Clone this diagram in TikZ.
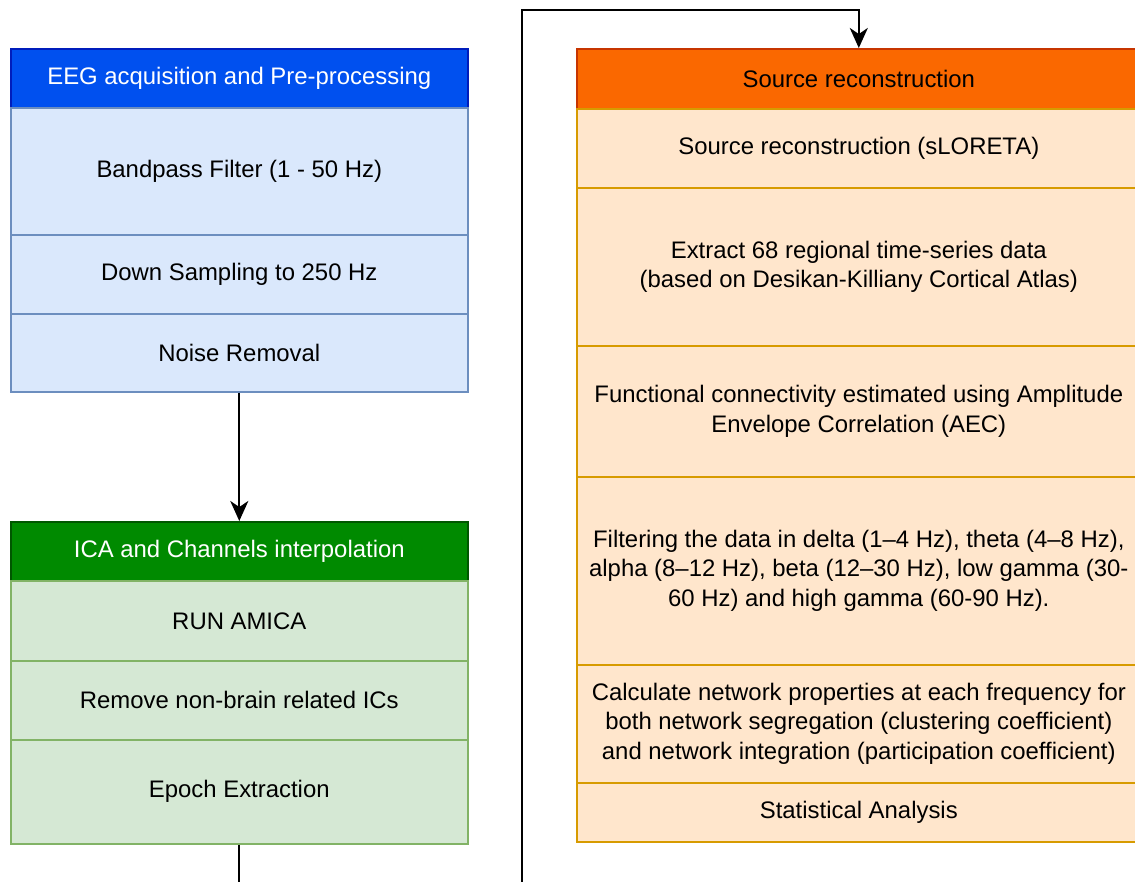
\documentclass[tikz,border=0pt]{standalone}
\usepackage{fontspec}
\setmainfont{Liberation Sans}
\usetikzlibrary{arrows.meta}
\definecolor{bluehead}{HTML}{0050EF}
\definecolor{bluehdraw}{HTML}{001DBC}
\definecolor{bluefill}{HTML}{DAE8FC}
\definecolor{bluedraw}{HTML}{6C8EBF}
\definecolor{greenhead}{HTML}{008A00}
\definecolor{greenhdraw}{HTML}{005700}
\definecolor{greenfill}{HTML}{D5E8D4}
\definecolor{greendraw}{HTML}{82B366}
\definecolor{orangehead}{HTML}{FA6800}
\definecolor{orangehdraw}{HTML}{C73500}
\definecolor{orangefill}{HTML}{FFE6CC}
\definecolor{orangedraw}{HTML}{D79B00}
\tikzset{
  cellbox/.style={rectangle, anchor=north west, inner sep=0pt, line width=1.6pt, align=center,
    font=\fontsize{23.9}{29.5}\selectfont},
  bluehbox/.style={cellbox, fill=bluehead, draw=bluehdraw, text=white},
  bluerbox/.style={cellbox, fill=bluefill, draw=bluedraw},
  greenhbox/.style={cellbox, fill=greenhead, draw=greenhdraw, text=white},
  greenrbox/.style={cellbox, fill=greenfill, draw=greendraw},
  orangehbox/.style={cellbox, fill=orangehead, draw=orangehdraw, text=black},
  orangerbox/.style={cellbox, fill=orangefill, draw=orangedraw},
  connline/.style={line width=2pt, black},
  arrline/.style={connline, -{Stealth[length=20pt, width=18pt, inset=6pt]}}
}
\begin{document}
\begin{tikzpicture}[x=1pt,y=-1pt]
\useasboundingbox (0,0) rectangle (1135,882);
\clip (0,0) rectangle (1135,882);
% blue block
\node[bluehbox, minimum width=457pt, minimum height=59pt] (b0) at (10,48) {EEG acquisition and Pre-processing};
\node[bluerbox, minimum width=457pt, minimum height=127pt] (b1) at (10,107) {Bandpass Filter (1 - 50 Hz)};
\node[bluerbox, minimum width=457pt, minimum height=79pt] (b2) at (10,234) {Down Sampling to 250 Hz};
\node[bluerbox, minimum width=457pt, minimum height=78pt] (b3) at (10,313) {Noise Removal};
% green block
\node[greenhbox, minimum width=457pt, minimum height=59pt] (g0) at (10,521) {ICA and Channels interpolation};
\node[greenrbox, minimum width=457pt, minimum height=80pt] (g1) at (10,580) {RUN AMICA};
\node[greenrbox, minimum width=457pt, minimum height=79pt] (g2) at (10,660) {Remove non-brain related ICs};
\node[greenrbox, minimum width=457pt, minimum height=104pt] (g3) at (10,739) {Epoch Extraction};
% orange block
\node[orangehbox, minimum width=564pt, minimum height=60pt] (o0) at (576,48) {Source reconstruction};
\node[orangerbox, minimum width=564pt, minimum height=79pt] (o1) at (576,108) {Source reconstruction (sLORETA)};
\node[orangerbox, minimum width=564pt, minimum height=158pt] (o2) at (576,187) {Extract 68 regional time-series data\\(based on Desikan-Killiany Cortical Atlas)};
\node[orangerbox, minimum width=564pt, minimum height=131pt] (o3) at (576,345) {Functional connectivity estimated using Amplitude\\Envelope Correlation (AEC)};
\node[orangerbox, minimum width=564pt, minimum height=188pt] (o4) at (576,476) {Filtering the data in delta (1–4 Hz), theta (4–8 Hz),\\alpha (8–12 Hz), beta (12–30 Hz), low gamma (30-\\60 Hz) and high gamma (60-90 Hz).};
\node[orangerbox, minimum width=564pt, minimum height=118pt] (o5) at (576,664) {Calculate network properties at each frequency for\\both network segregation (clustering coefficient)\\and network integration (participation coefficient)};
\node[orangerbox, minimum width=564pt, minimum height=59pt] (o6) at (576,782) {Statistical Analysis};
% connectors
\coordinate (c1) at (522,900);
\coordinate (c2) at (522,10);
\draw[arrline] (b3.south) -- (g0.north);
\draw[arrline] (g3.south) |- (c1) -- (c2) -| (o0.north);
\end{tikzpicture}
\end{document}
